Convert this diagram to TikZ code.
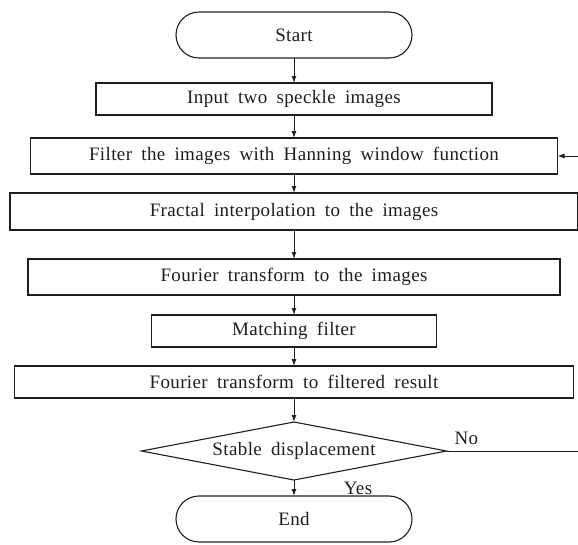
\documentclass[tikz,border=0pt]{standalone}
\usepackage{fontspec}
\setmainfont{Liberation Serif}[LetterSpace=2,WordSpace=1.8]
\usepackage{xcolor}
\usetikzlibrary{shapes.geometric,arrows.meta,positioning,calc}
\definecolor{ink}{HTML}{1E1E1E}

\begin{document}
\begin{tikzpicture}[
  x=1pt, y=-1pt,
  node distance=20pt,
  every node/.style={text=ink, outer sep=0pt, font=\fontsize{19}{21}\selectfont},
  term/.style={draw=ink, rounded corners=23pt, minimum width=236pt,
              minimum height=46pt, line width=1.1pt},
  proc/.style={draw=ink, minimum height=32pt, line width=1.5pt},
  cond/.style={draw=ink, diamond, aspect=5.2, minimum width=305pt,
              minimum height=58pt, inner sep=0pt, line width=1.1pt},
  ar/.style={draw=ink, -{Latex[length=7pt,width=5pt]}, line width=1pt}
]
  \useasboundingbox (0,0) rectangle (578,544);
  \node[term] (start) at (294,35) {Start};
  \node[proc, minimum width=396pt, below=25pt of start] (input) {Input two speckle images};
  \node[proc, minimum width=527pt, minimum height=36pt, below=23pt of input] (filter)
       {Filter the images with Hanning window function};
  \node[proc, minimum width=568pt, minimum height=37pt, below=19pt of filter] (fractal)
       {Fractal interpolation to the images};
  \node[proc, minimum width=532pt, minimum height=36pt, below=29pt of fractal] (fourier)
       {Fourier transform to the images};
  \node[proc, minimum width=285pt, below=20pt of fourier] (match) {Matching filter};
  \node[proc, minimum width=559pt, below=19pt of match] (ffres)
       {Fourier transform to filtered result};
  \node[cond, below=24pt of ffres] (stable) {Stable displacement};
  \node[term, below=16pt of stable] (stop) {End};
  \coordinate (back) at (579.5,451);
  \draw[ar] (start) -- (input);
  \draw[ar] (input) -- (filter);
  \draw[ar] (filter) -- (fractal);
  \draw[ar] (fractal) -- (fourier);
  \draw[ar] (fourier) -- (match);
  \draw[ar] (match) -- (ffres);
  \draw[ar] (ffres) -- (stable);
  \draw[ar] (stable) -- (stop);
  \draw[ar] (stable.east) -- (stable.east -| back) |- (filter.east);
  \node[inner sep=0pt, above right=6pt and 8pt of stable.east] (no) {No};
  \node[inner sep=0pt] (yes) at (358,488) {Yes};
\end{tikzpicture}
\end{document}
